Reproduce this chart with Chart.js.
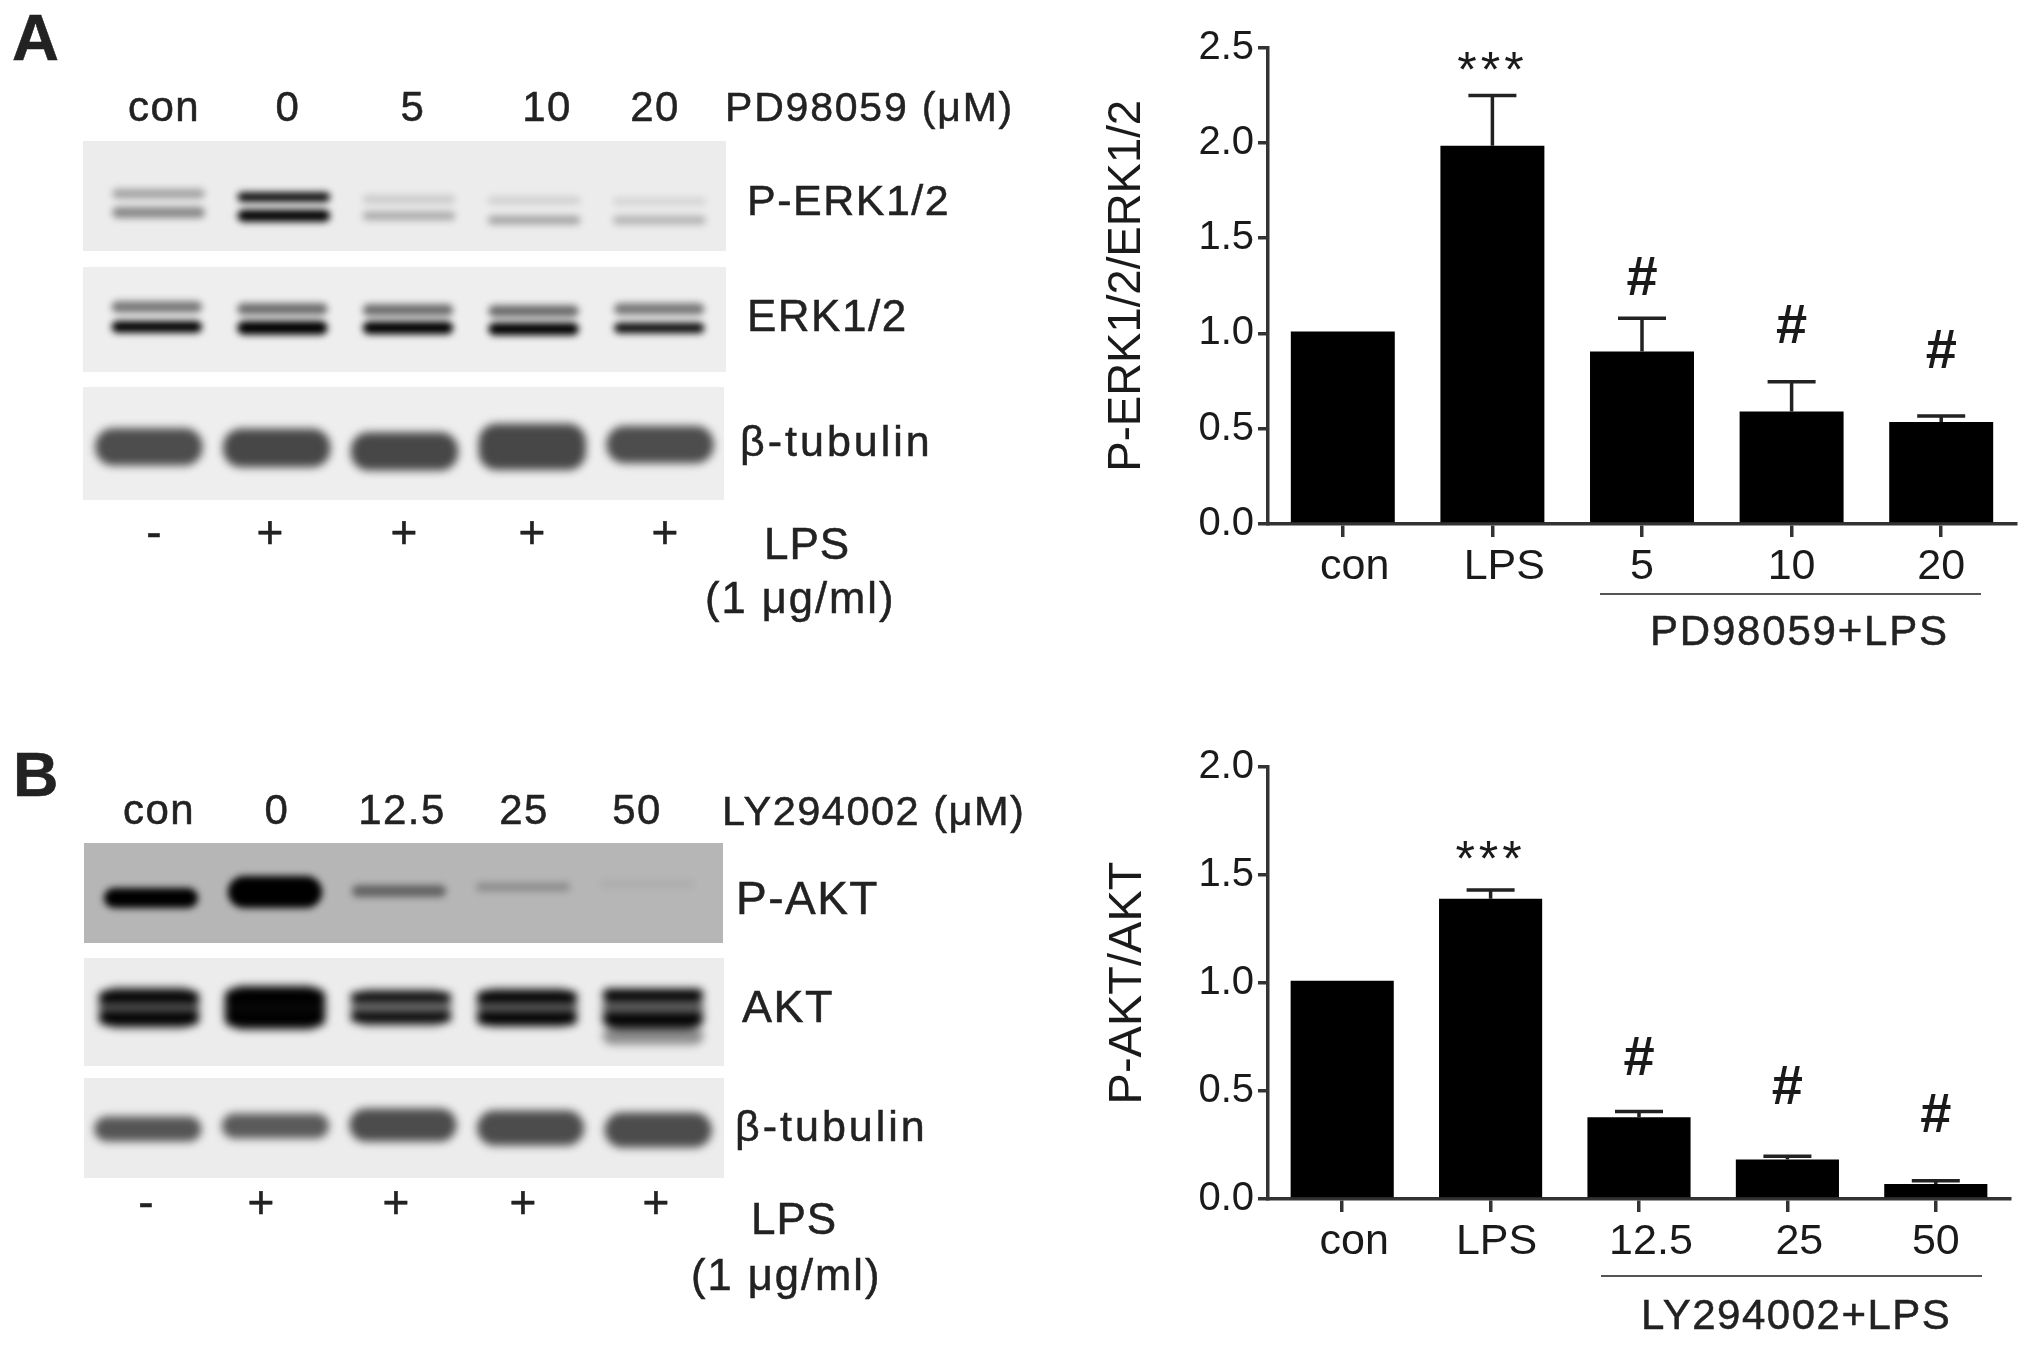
<!DOCTYPE html>
<html>
<head>
<meta charset="utf-8">
<title>P-ERK1/2 and P-AKT</title>
<script src="https://cdn.jsdelivr.net/npm/chart.js@4"></script>
<style>
html, body { margin: 0; background: #fff; }
#page { position: relative; width: 2031px; height: 1345px; overflow: hidden; filter: blur(0.7px); }
#page canvas { position: absolute; }
.txt { position: absolute; white-space: pre; color: #222; font-family: "Liberation Sans", Arial, sans-serif; -webkit-text-stroke: 0.5px #222; }
.rule { position: absolute; background: #555; }
.panel { position: absolute; overflow: hidden; }
</style>
</head>
<body>
<div id="page"></div>
<script>
// bar panels
const groupsA = ['con', 'LPS', '5', '10', '20'];
const valuesA = [1.01, 1.985, 0.905, 0.59, 0.535];
const errTopsA = [null, 2.248, 1.08, 0.746, 0.566];
const marksA = ['', '***', '#', '#', '#'];
const markLevelsA = [null, 2.425, 1.28, 1.03, 0.9];
const tickShiftA = [2, 2, 0, 0, 0];

const groupsB = ['con', 'LPS', '12.5', '25', '50'];
const valuesB = [1.01, 1.39, 0.378, 0.183, 0.07];
const errTopsB = [null, 1.431, 0.405, 0.198, 0.084];
const marksB = ['', '***', '#', '#', '#'];
const markLevelsB = [null, 1.61, 0.645, 0.51, 0.38];
const tickShiftB = [2, 1, 2, 2, 0];

// blot bands: migration (% of the membrane height), band thickness (%), density 0-1, one value per lane
const pErkUpperPos = [48, 51, 53, 54, 55];
const pErkUpperThick = [9, 9, 8, 7, 7];
const pErkUpperDens = [0.3, 0.95, 0.14, 0.12, 0.1];
const pErkLowerPos = [65, 68, 68, 72, 72];
const pErkLowerThick = [10, 11, 8, 8, 8];
const pErkLowerDens = [0.42, 1, 0.28, 0.3, 0.24];

const erkUpperPos = [38, 40, 41, 42, 40];
const erkUpperThick = [11, 11, 11, 11, 11];
const erkUpperDens = [0.5, 0.55, 0.55, 0.55, 0.5];
const erkLowerPos = [57, 58, 58, 59, 58];
const erkLowerThick = [11, 13, 12, 12, 10];
const erkLowerDens = [1, 1, 1, 1, 0.95];

const tubAPos = [53, 54, 57, 53, 51];
const tubAThick = [33, 34, 34, 41, 33];
const tubADens = [0.68, 0.7, 0.7, 0.7, 0.68];

const pAktPos = [55, 49, 48, 44, 41];
const pAktThick = [20, 32, 12, 9, 7];
const pAktDens = [1, 1, 0.45, 0.22, 0.05];

const aktHazePos = [46, 46, 46, 46, 48];
const aktHazeThick = [38, 40, 34, 36, 38];
const aktHazeDens = [0.65, 0.95, 0.55, 0.6, 0.6];
const aktUpperPos = [36, 36, 36, 36, 34];
const aktUpperThick = [11, 15, 8, 11, 11];
const aktUpperDens = [1, 1, 1, 1, 1];
const aktLowerPos = [56, 56, 55, 56, 57];
const aktLowerThick = [12, 15, 9, 12, 12];
const aktLowerDens = [1, 1, 1, 1, 1];
const aktSmearPos = [null, null, null, null, 72];
const aktSmearThick = [null, null, null, null, 16];
const aktSmearDens = [0, 0, 0, 0, 0.4];

const tubBPos = [51, 48, 47, 50, 52];
const tubBThick = [25, 25, 33, 35, 35];
const tubBDens = [0.64, 0.62, 0.68, 0.68, 0.68];

// lane and side labels
const lanesTopA = ['con', '0', '5', '10', '20'];
const lanesTopB = ['con', '0', '12.5', '25', '50'];
const lpsSigns = ['-', '+', '+', '+', '+'];

const page = document.getElementById('page');
Chart.defaults.font.family = '"Liberation Sans", Arial, sans-serif';
Chart.defaults.color = '#222';

function addText(str, x, base, size, spacing, anchor, weight) {
	const d = document.createElement('div');
	d.className = 'txt';
	d.textContent = str;
	d.style.fontSize = size + 'px';
	d.style.lineHeight = size + 'px';
	d.style.left = x + 'px';
	d.style.top = (base - 0.8465 * size) + 'px';
	if (spacing) d.style.letterSpacing = spacing + 'px';
	if (anchor == 'c') d.style.transform = 'translateX(-50%)';
	if (weight) d.style.fontWeight = weight;
	page.appendChild(d);
}

function addRule(x, y, w, h) {
	const d = document.createElement('div');
	d.className = 'rule';
	d.style.cssText = 'left:' + x + 'px;top:' + y + 'px;width:' + w + 'px;height:' + h + 'px';
	page.appendChild(d);
}

const barExtras = {
	id: 'barExtras',
	afterDatasetsDraw(chart, args, opts) {
		const { ctx, scales } = chart;
		ctx.save();
		ctx.strokeStyle = '#222';
		ctx.lineWidth = 3.5;
		opts.errTops.forEach((top, i) => {
			if (top == null) return;
			const x = scales.x.getPixelForValue(i);
			const y0 = scales.y.getPixelForValue(opts.values[i]);
			const y1 = scales.y.getPixelForValue(top);
			ctx.beginPath();
			ctx.moveTo(x, y0);
			ctx.lineTo(x, y1);
			ctx.moveTo(x - 24, y1);
			ctx.lineTo(x + 24, y1);
			ctx.stroke();
		});
		ctx.fillStyle = '#1a1a1a';
		ctx.textAlign = 'center';
		ctx.textBaseline = 'middle';
		opts.marks.forEach((m, i) => {
			if (!m) return;
			const x = scales.x.getPixelForValue(i);
			const y = scales.y.getPixelForValue(opts.levels[i]);
			if (m == '#') {
				ctx.font = 'bold 56px "Liberation Sans"';
				ctx.fillText(m, x, y);
			} else {
				ctx.font = '50px "Liberation Sans"';
				ctx.letterSpacing = '4px';
				ctx.fillText(m, x, y + 11);
				ctx.letterSpacing = '0px';
			}
		});
		ctx.restore();
	}
};

function barChart(top, height, axisBottom, rightPad, topPad, title, titleSize, yMax, groups, values, errTops, marks, levels, shifts) {
	const c = document.createElement('canvas');
	c.width = 951;
	c.height = height;
	c.style.left = '1080px';
	c.style.top = top + 'px';
	page.appendChild(c);
	new Chart(c, {
		type: 'bar',
		data: {
			labels: groups,
			datasets: [{ data: values, backgroundColor: '#000', barPercentage: 0.695, categoryPercentage: 1 }]
		},
		plugins: [barExtras],
		options: {
			responsive: false,
			animation: false,
			layout: { padding: { top: topPad, right: rightPad, left: 0, bottom: 0 } },
			plugins: {
				legend: { display: false },
				tooltip: { enabled: false },
				barExtras: { values, errTops, marks, levels }
			},
			scales: {
				x: {
					afterFit: s => { s.height = height - axisBottom; },
					border: { color: '#333', width: 3.5 },
					grid: { offset: false, drawOnChartArea: false, color: '#333', lineWidth: 3.5, tickLength: 13 },
					ticks: {
						font: { size: 43 },
						color: '#1a1a1a',
						padding: 4,
						maxRotation: 0,
						autoSkip: false,
						// a few labels sit right of their bar in the original
						callback: (v, i) => ' '.repeat(shifts[i]) + groups[i]
					}
				},
				y: {
					min: 0,
					max: yMax,
					afterFit: s => { s.width = 188; },
					border: { color: '#333', width: 3.5 },
					grid: { drawOnChartArea: false, color: '#333', lineWidth: 3.5, tickLength: 10 },
					ticks: { stepSize: 0.5, font: { size: 40 }, color: '#1a1a1a', padding: 4, callback: v => v.toFixed(1) },
					title: { display: true, text: title, font: { size: titleSize }, color: '#1a1a1a', padding: { top: 20, bottom: 0 } }
				}
			}
		}
	});
}

function band(pos, thick, dens) {
	return {
		data: pos.map((p, i) => p == null ? null : [p - thick[i] / 2, p + thick[i] / 2]),
		backgroundColor: dens.map(d => 'rgba(0,0,0,' + d + ')'),
		borderRadius: 18,
		borderSkipped: false
	};
}

function blot(x, y, w, h, bg, first, last, barPct, blurPx, bands) {
	const box = document.createElement('div');
	box.className = 'panel';
	box.style.cssText = 'left:' + x + 'px;top:' + y + 'px;width:' + w + 'px;height:' + h + 'px;background:' + bg;
	const c = document.createElement('canvas');
	c.width = w;
	c.height = h;
	c.style.filter = 'blur(' + blurPx + 'px)';
	c.style.left = '0';
	c.style.top = '0';
	box.appendChild(c);
	page.appendChild(box);
	new Chart(c, {
		type: 'bar',
		data: { labels: lanesTopA, datasets: bands },
		options: {
			responsive: false,
			animation: false,
			layout: { padding: { left: first - x, right: x + w - last, top: 0, bottom: 0 } },
			datasets: { bar: { grouped: false, barPercentage: barPct, categoryPercentage: 1 } },
			plugins: { legend: { display: false }, tooltip: { enabled: false } },
			scales: {
				x: { display: false },
				y: { display: false, min: 0, max: 100, reverse: true }
			}
		}
	});
}

// A: blots
blot(83, 141, 643, 110, '#ececec', 96, 722, 0.74, 3.5, [
	band(pErkUpperPos, pErkUpperThick, pErkUpperDens),
	band(pErkLowerPos, pErkLowerThick, pErkLowerDens)
]);
blot(83, 267, 643, 105, '#eeeeee', 94, 722, 0.72, 3.5, [
	band(erkUpperPos, erkUpperThick, erkUpperDens),
	band(erkLowerPos, erkLowerThick, erkLowerDens)
]);
blot(83, 387, 641, 113, '#eeeeee', 85, 724, 0.84, 4, [
	band(tubAPos, tubAThick, tubADens)
]);
// B: blots
blot(84, 843, 639, 100, '#b6b6b6', 89, 709, 0.76, 3.5, [
	band(pAktPos, pAktThick, pAktDens)
]);
blot(84, 958, 640, 108, '#ececec', 86, 716, 0.8, 4, [
	band(aktHazePos, aktHazeThick, aktHazeDens),
	band(aktSmearPos, aktSmearThick, aktSmearDens),
	band(aktUpperPos, aktUpperThick, aktUpperDens),
	band(aktLowerPos, aktLowerThick, aktLowerDens)
]);
blot(84, 1078, 640, 100, '#ececec', 83, 722, 0.84, 4, [
	band(tubBPos, tubBThick, tubBDens)
]);

// right hand bars
barChart(0, 630, 524, 15, 47.5, 'P-ERK1/2/ERK1/2', 45.5, 2.5, groupsA, valuesA, errTopsA, marksA, markLevelsA, tickShiftA);
barChart(720, 600, 479, 21, 47, 'P-AKT/AKT', 47, 2.0, groupsB, valuesB, errTopsB, marksB, markLevelsB, tickShiftB);

addRule(1600, 593, 381, 2);
addRule(1601, 1275, 381, 2);
addText('PD98059+LPS', 1650, 646, 42, 1.8);
addText('LY294002+LPS', 1641, 1330, 42, 1.5);

// panel letters
addText('A', 12, 60, 65, 0, 'l', 'bold');
addText('B', 13, 796, 63, 0, 'l', 'bold');

// lane labels
[164, 288, 413, 547, 655].forEach((x, i) => addText(lanesTopA[i], x, 122, 42, 1.5, 'c'));
[159, 277, 402, 524, 637].forEach((x, i) => addText(lanesTopB[i], x, 825, 42, 1.5, 'c'));
addText('PD98059 (μM)', 725, 122, 41, 1.8);
addText('LY294002 (μM)', 722, 825, 41.5, 1.5);

addText('P-ERK1/2', 747, 215, 43, 1.5);
addText('ERK1/2', 747, 331, 44, 1.5);
addText('β-tubulin', 740, 456, 43, 3);
addText('P-AKT', 736, 914, 46, 1.5);
addText('AKT', 742, 1022, 45, 1.5);
addText('β-tubulin', 735, 1141, 43, 3);

[154, 270, 404, 532, 665].forEach((x, i) => addText(lpsSigns[i], x, 548, 46, 0, 'c'));
[146, 261, 396, 523, 656].forEach((x, i) => addText(lpsSigns[i], x, 1218, 46, 0, 'c'));
addText('LPS', 764, 559, 44, 1);
addText('(1 μg/ml)', 705, 614, 43.5, 2);
addText('LPS', 751, 1234, 44, 1);
addText('(1 μg/ml)', 691, 1291, 43.5, 2);
</script>
</body>
</html>
